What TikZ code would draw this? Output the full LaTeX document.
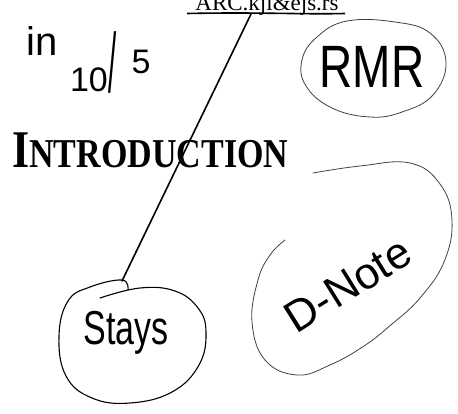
\documentclass[tikz,border=0pt]{standalone}
\usepackage{fontspec}
\setmainfont{Liberation Serif}
\newfontfamily\handfont{Liberation Sans}
\tikzset{
  handline/.style={line width=1.1pt, line cap=round, line join=round},
  faintline/.style={line width=0.8pt, draw=black!75, line cap=round},
  handtext/.style={font=\handfont, inner sep=0pt}
}
\begin{document}
\begin{tikzpicture}[x=1pt, y=-1pt]
  \useasboundingbox (0,0) rectangle (458,413);

  % Printed heading and reference code
  \node[anchor=base, inner sep=0pt, font=\fontsize{23}{23}\selectfont] (code) at (267,10) {ARC.kjl\&ejs.rs};
  \draw[line width=1.6pt] (187,13.5) .. controls (260,12) and (300,14.5) .. (345,13.5);
  \coordinate (codeline) at (251,14);
  \node[anchor=base west, inner sep=0pt] (intro) at (12,167)
    {\bfseries\scalebox{0.83}[1]{\fontsize{53}{53}\selectfont I\fontsize{41}{41}\selectfont NTRODUCTION}};

  % Handwritten date
  \node[handtext, font=\handfont\fontsize{40}{40}\selectfont] (inmark) at (42,41) {in};
  \node[handtext, font=\handfont\fontsize{34}{34}\selectfont] (day) at (89,80) {10};
  \node[handtext, font=\handfont\fontsize{84}{84}\selectfont] (slash) at (113,62) {\scalebox{0.35}[1]{/}};
  \node[handtext, font=\handfont\fontsize{34}{34}\selectfont] (month) at (141,62) {5};

  % RMR loop
  \draw[faintline] plot[smooth cycle, tension=0.7] coordinates {(347,21) (395,22) (430,33) (446,62) (433,95) (402,112) (370,117) (332,108) (306,86) (302,60) (317,37)};
  \node[handtext, font=\handfont\fontsize{46}{46}\selectfont] (rmr) at (372,67) {\scalebox{1}[1.3]{RMR}};

  % Stays loop
  \draw[handline] plot[smooth, tension=0.7] coordinates {(100,298) (140,288) (175,291) (198,308) (206,332) (199,365) (172,392) (130,403) (92,398) (66,376) (59,336) (68,301) (90,287) (122,280) (128,290)};
  \coordinate (staysjoin) at (122,281);
  \node[handtext, font=\handfont\fontsize{34}{34}\selectfont] (stays) at (126,333) {\scalebox{1}[1.4]{Stays}};

  % D-Note loop
  \draw[faintline] plot[smooth, tension=0.7] coordinates {(313,173) (360,166) (410,163) (440,184) (452,220) (444,262) (420,298) (392,324) (364,346) (330,365) (297,375) (265,360) (252,322) (258,280) (270,255) (285,240)};
  \node[handtext, rotate=32, font=\handfont\fontsize{44}{44}\selectfont] (dnote) at (348,285) {D-Note};

  % Link from heading to Stays
  \draw[handline, line width=1.6pt] (codeline) -- (staysjoin);
\end{tikzpicture}
\end{document}
